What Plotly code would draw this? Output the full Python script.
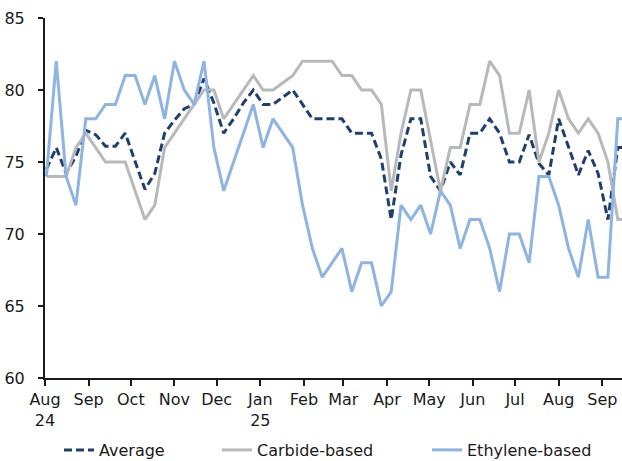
import pandas as pd
import plotly.graph_objects as go

# Weekly observations (Fridays), Aug 2024 - Sep 2025
dates = pd.date_range("2024-08-02", periods=60, freq="7D")

average = [74.5, 76, 74.2, 75.4, 77.2, 76.9, 76.1, 76.1, 77, 75.1,
           73.1, 74.2, 77, 77.9, 78.7, 79, 80.8, 79.1, 77, 78,
           79.1, 80, 79, 79, 79.5, 80, 79, 78, 78, 78,
           78, 77, 77, 77, 75.2, 71, 75.5, 78, 78, 74,
           73, 75, 74.1, 77, 77, 78, 77, 75, 75, 76.9,
           74.9, 74.1, 78, 76.1, 74.1, 75.8, 74.2, 71, 76, 76]

carbide = [74, 74, 74, 76, 77, 76, 75, 75, 75, 73,
           71, 72, 76, 77, 78, 79, 80, 80, 78, 79,
           80, 81, 80, 80, 80.5, 81, 82, 82, 82, 82,
           81, 81, 80, 80, 79, 73, 77, 80, 80, 76.5,
           73, 76, 76, 79, 79, 82, 81, 77, 77, 80,
           75, 77, 80, 78, 77, 78, 77, 75, 71, 71]

ethylene = [74, 82, 74, 72, 78, 78, 79, 79, 81, 81,
            79, 81, 78, 82, 80, 79, 82, 76, 73, 75,
            77, 79, 76, 78, 77, 76, 72, 69, 67, 68,
            69, 66, 68, 68, 65, 66, 72, 71, 72, 70,
            73, 72, 69, 71, 71, 69, 66, 70, 70, 68,
            74, 74, 72, 69, 67, 71, 67, 67, 78, 78]

tick_dates = ["2024-08-01", "2024-09-01", "2024-10-01", "2024-11-01", "2024-12-01",
              "2025-01-01", "2025-02-01", "2025-03-01", "2025-04-01", "2025-05-01",
              "2025-06-01", "2025-07-01", "2025-08-01", "2025-09-01"]
tick_labels = ["Aug<br>24", "Sep", "Oct", "Nov", "Dec", "Jan<br>25", "Feb", "Mar",
               "Apr", "May", "Jun", "Jul", "Aug", "Sep"]

FONT = "DejaVu Sans"
NAVY = "#1f3f6e"
GREY = "#b7b9bb"
LBLUE = "#8db4e2"

W, H = 622, 461

fig = go.Figure()
fig.add_trace(go.Scatter(x=dates, y=average, mode="lines", name="Average",
                         line=dict(color=NAVY, width=3, dash="8px,4px"),
                         legend="legend"))
fig.add_trace(go.Scatter(x=dates, y=carbide, mode="lines", name="Carbide-based",
                         line=dict(color=GREY, width=3), legend="legend2"))
fig.add_trace(go.Scatter(x=dates, y=ethylene, mode="lines", name="Ethylene-based",
                         line=dict(color=LBLUE, width=3), legend="legend3"))

leg_common = dict(orientation="h", yref="container", xref="container",
                  yanchor="middle", y=11 / H, xanchor="left",
                  font=dict(family=FONT, size=16, color="#1a1a1a"),
                  bgcolor="rgba(0,0,0,0)", borderwidth=0)

fig.update_layout(
    width=W, height=H,
    margin=dict(l=45, r=0, t=18, b=83, autoexpand=False),
    paper_bgcolor="white", plot_bgcolor="white",
    font=dict(family=FONT, size=16, color="#1a1a1a"),
    showlegend=True,
    legend=dict(x=59 / W, **leg_common),
    legend2=dict(x=217 / W, **leg_common),
    legend3=dict(x=427 / W, **leg_common),
    xaxis=dict(type="date", range=["2024-08-01", "2025-09-15"], automargin=False,
               tickmode="array", tickvals=tick_dates, ticktext=tick_labels,
               showgrid=False, zeroline=False,
               showline=True, linecolor="#1a1a1a", linewidth=2,
               ticks="outside", ticklen=6, tickwidth=1.5, tickcolor="#1a1a1a",
               tickfont=dict(family=FONT, size=16, color="#1a1a1a")),
    yaxis=dict(range=[60, 85], tickmode="linear", tick0=60, dtick=5, automargin=False,
               showgrid=False, zeroline=False,
               showline=True, linecolor="#1a1a1a", linewidth=2,
               ticks="outside", ticklen=5, tickwidth=1.5, tickcolor="#1a1a1a",
               ticklabelstandoff=10,
               tickfont=dict(family=FONT, size=16, color="#1a1a1a")),
)

fig.write_html("out.html",
               config={"displayModeBar": False},
               post_script="document.body.style.margin='0';"
                           "document.body.style.overflow='hidden';")
